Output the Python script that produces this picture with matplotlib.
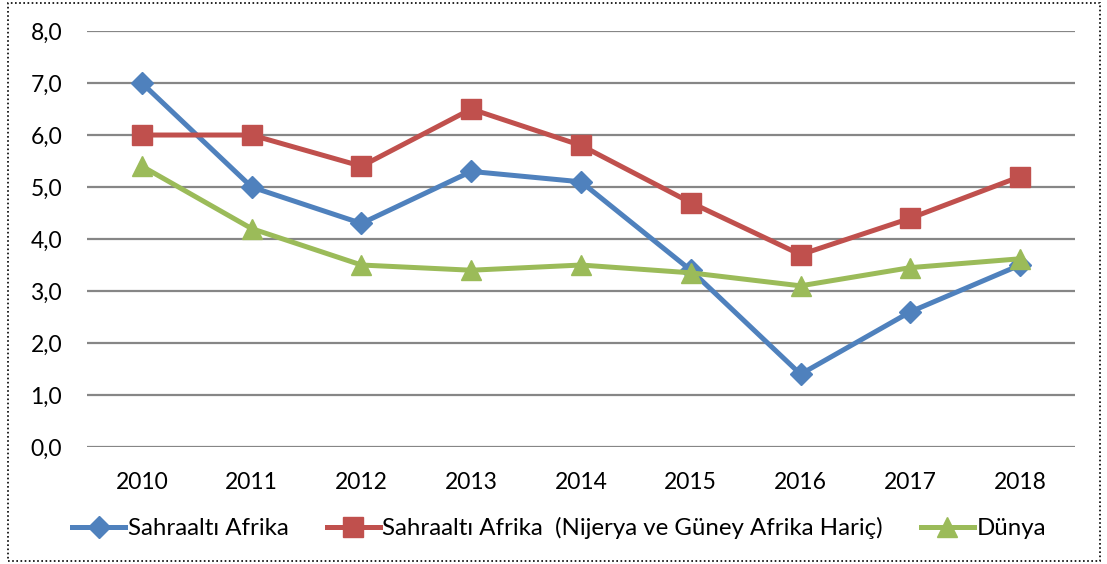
import matplotlib.pyplot as plt
from matplotlib.patches import Rectangle

plt.rcParams['font.family'] = ['Lato', 'DejaVu Sans']

# Data
years = ["2010", "2011", "2012", "2013", "2014", "2015", "2016", "2017", "2018"]
sahraalti = [7.0, 5.0, 4.3, 5.3, 5.1, 3.4, 1.4, 2.6, 3.5]
sahraalti_haric = [6.0, 6.0, 5.4, 6.5, 5.8, 4.7, 3.7, 4.4, 5.2]
dunya = [5.4, 4.2, 3.5, 3.4, 3.5, 3.35, 3.1, 3.45, 3.62]

labels = ["Sahraaltı Afrika",
          "Sahraaltı Afrika  (Nijerya ve Güney Afrika Hariç)",
          "Dünya"]

fig = plt.figure(figsize=(11.07, 5.64), dpi=100)
ax = fig.add_axes([0.0786, 0.2074, 0.8925, 0.7376])

x = range(len(years))
ax.plot(x, sahraalti, color="#4F81BD", lw=3.6, marker="D", ms=11, label=labels[0])
ax.plot(x, sahraalti_haric, color="#C0504D", lw=3.6, marker="s", ms=14, label=labels[1])
ax.plot(x, dunya, color="#9BBB59", lw=3.6, marker="^", ms=14, label=labels[2])

ax.set_xlim(-0.5, len(years) - 0.5)
ax.set_ylim(0, 8)
ax.set_yticks(range(0, 9))
ax.set_yticklabels([f"{v},0" for v in range(0, 9)])
ax.set_xticks(list(x))
ax.set_xticklabels(years)
ax.tick_params(length=0, labelsize=16.5, colors="black")
ax.tick_params(axis="y", pad=18)
ax.tick_params(axis="x", pad=18)
ax.yaxis.grid(True, color="#868686", lw=1.6)
ax.set_axisbelow(True)
for s in ax.spines.values():
    s.set_visible(False)

fig.legend(loc="center", bbox_to_anchor=(0.505, 0.064), ncol=3, frameon=False,
           fontsize=17.3, handlelength=2.2, handletextpad=0.1, columnspacing=1.6)

fig.patches.append(Rectangle((0.007, 0.006), 0.987, 0.988, transform=fig.transFigure,
                             fill=False, ls=(0, (1, 1.5)), lw=1.2, color="black"))

plt.savefig("out.png", dpi=100)
